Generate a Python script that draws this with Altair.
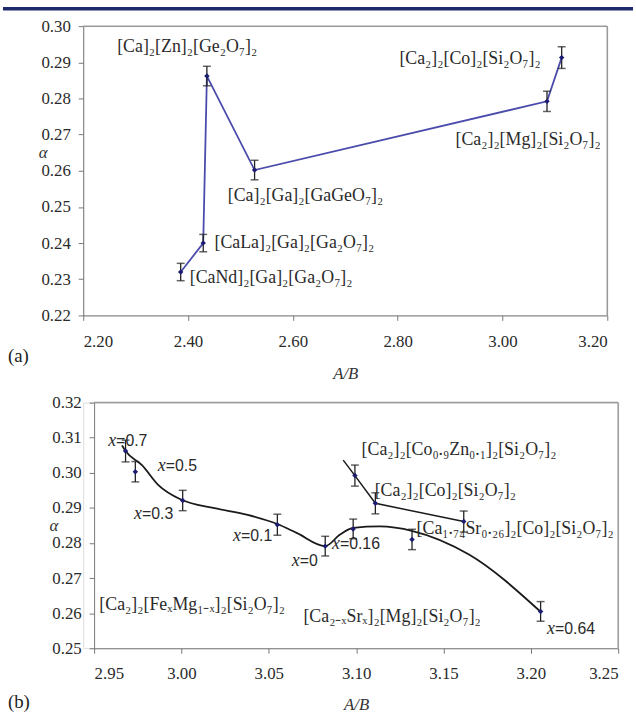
import altair as alt
import pandas as pd

SERIF = "Liberation Serif"
SANS = "Liberation Sans"

# ---------------- Panel (a) data ----------------
a_names = ["[CaNd]₂[Ga]₂[Ga₂O₇]₂", "[CaLa]₂[Ga]₂[Ga₂O₇]₂", "[Ca]₂[Zn]₂[Ge₂O₇]₂",
           "[Ca]₂[Ga]₂[GaGeO₇]₂", "[Ca₂]₂[Mg]₂[Si₂O₇]₂", "[Ca₂]₂[Co]₂[Si₂O₇]₂"]
a_ab = [2.386, 2.429, 2.436, 2.527, 3.085, 3.113]
a_alpha = [0.2320, 0.2400, 0.2862, 0.2602, 0.2792, 0.2913]
a_err = [0.0024, 0.0024, 0.0027, 0.0027, 0.0028, 0.0030]
# label anchors (left edge of text, data units)
a_label_ab = [2.4033, 2.4505, 2.2648, 2.4758, 2.9104, 2.8033]
a_label_alpha = [0.2302, 0.2400, 0.2941, 0.2531, 0.2684, 0.2909]
a_xticks = [2.2, 2.4, 2.6, 2.8, 3.0, 3.2]
a_yticks = [0.22, 0.23, 0.24, 0.25, 0.26, 0.27, 0.28, 0.29, 0.30]

# ---------------- Panel (b) data ----------------
b_ab = [2.968, 2.9736, 3.0007, 3.0549, 3.0823,      # Fe series x=0.7..0
        3.0983, 3.132, 3.2056,                      # Sr series
        3.0993, 3.111, 3.1616]                      # Co series
b_alpha = [0.3062, 0.3003, 0.2921, 0.2852, 0.2791,
           0.2840, 0.2810, 0.2605,
           0.2992, 0.2913, 0.2861]
b_err = [0.0031, 0.0029, 0.0029, 0.0030, 0.0028,
         0.0028, 0.0029, 0.0028,
         0.0030, 0.0030, 0.0030]
# smooth trend curve
curve_ab = [2.966, 2.968, 2.9774, 2.9868, 3.0001, 3.0189, 3.0379, 3.0549, 3.0662, 3.0823,
            3.0908, 3.0983, 3.1134, 3.1324, 3.1646, 3.2056]
curve_alpha = [0.3078, 0.3062, 0.3022, 0.2965, 0.2923, 0.2899, 0.2880, 0.2854, 0.2828, 0.2791,
               0.2824, 0.2843, 0.2847, 0.2834, 0.2767, 0.2604]
# straight Co line
coline_ab = [3.0926, 3.0993, 3.111, 3.1616]
coline_alpha = [0.3036, 0.2992, 0.2913, 0.2861]
# composition labels
xlab_text = ["=0.7", "=0.5", "=0.3", "=0.1", "=0", "=0.16", "=0.64"]
xlab_ab = [2.9626, 2.9910, 2.9774, 3.0341, 3.0677, 3.0907, 3.2138]
xlab_alpha = [0.3091, 0.3020, 0.2881, 0.2819, 0.2748, 0.2796, 0.2556]
# compound labels
b_names = ["[Ca₂]₂[Co₀.₉Zn₀.₁]₂[Si₂O₇]₂", "[Ca₂]₂[Co]₂[Si₂O₇]₂",
           "[Ca₁.₇₄Sr₀.₂₆]₂[Co]₂[Si₂O₇]₂", "[Ca₂]₂[FeₓMg₁₋ₓ]₂[Si₂O₇]₂",
           "[Ca₂₋ₓSrₓ]₂[Mg]₂[Si₂O₇]₂"]
b_label_ab = [3.1031, 3.1106, 3.1346, 2.9530, 3.0698]
b_label_alpha = [0.3064, 0.2948, 0.2840, 0.2622, 0.2589]
b_xticks = [2.95, 3.00, 3.05, 3.10, 3.15, 3.20, 3.25]
b_yticks = [0.25, 0.26, 0.27, 0.28, 0.29, 0.30, 0.31, 0.32]

TOP_W, TOP_H = 529, 292
BOT_W, BOT_H = 540, 248
BOT_OFF = 11

AX_STYLE = dict(grid=False, tickSize=5, labelFont=SERIF, labelFontSize=17, labelColor="#2a2a2a",
                domainColor="#777", tickColor="#777", titleFont=SERIF, titleFontSize=17,
                titleFontStyle="italic", titleFontWeight="normal", titleColor="#333", format=".2f")


def xenc(field, domain, ticks, rng=None, tpad=17):
    sc = dict(domain=domain, nice=False, zero=False)
    if rng is not None:
        sc["range"] = rng
    return alt.X(field, type="quantitative", scale=alt.Scale(**sc),
                 axis=alt.Axis(values=ticks, title="A/B", labelPadding=13, titlePadding=tpad,
                               **AX_STYLE))


def yenc(field, domain, ticks, ty, offset=0):
    return alt.Y(field, type="quantitative", scale=alt.Scale(domain=domain, nice=False, zero=False),
                 axis=alt.Axis(values=ticks, title="α", labelPadding=8, titleAngle=0,
                               titleX=-41, titleY=ty, titleAlign="center",
                               titleBaseline="middle", offset=offset, **AX_STYLE))


# ---------------- Panel (a) ----------------
dfa = pd.DataFrame({"ab": a_ab, "alpha": a_alpha, "seq": range(len(a_ab)),
                    "lo": [v - e for v, e in zip(a_alpha, a_err)],
                    "hi": [v + e for v, e in zip(a_alpha, a_err)]})
dfa_lab = pd.DataFrame({"lx": a_label_ab, "ly": a_label_alpha, "name": a_names})
frame_a = pd.DataFrame({"fx": [2.2, 3.2], "fx2": [3.2, 3.2], "fy": [0.30, 0.22], "fy2": [0.30, 0.30]})

AXD = [2.2, 3.2]
AYD = [0.22, 0.30]


def ax(f):
    return xenc(f, AXD, a_xticks)


def ay(f):
    return yenc(f, AYD, a_yticks, 128)


base_a = alt.Chart(dfa)
top_layers = [
    alt.Chart(frame_a).mark_rule(color="#9a9a9a", strokeWidth=1.5).encode(
        x=ax("fx"), x2="fx2", y=ay("fy"), y2="fy2"),
    base_a.mark_line(color="#4b4bab", strokeWidth=1.8).encode(
        x=ax("ab"), y=ay("alpha"), order="seq:Q"),
    base_a.mark_rule(color="#222", strokeWidth=1.3).encode(x=ax("ab"), y=ay("lo"), y2="hi"),
    base_a.mark_tick(color="#222", orient="horizontal", size=8, thickness=1.5).encode(
        x=ax("ab"), y=ay("lo")),
    base_a.mark_tick(color="#222", orient="horizontal", size=8, thickness=1.5).encode(
        x=ax("ab"), y=ay("hi")),
    base_a.mark_point(shape="diamond", filled=True, size=30, color="#1c1c72", opacity=1).encode(
        x=ax("ab"), y=ay("alpha")),
    alt.Chart(dfa_lab).mark_text(align="left", baseline="middle", font=SERIF, fontSize=18,
                                 color="#2a2a2a").encode(
        x=ax("lx"), y=ay("ly"), text="name:N"),
    alt.Chart(pd.DataFrame({"t": ["(a)"]})).mark_text(align="left", baseline="middle", font=SERIF,
                                                      fontSize=19, color="#222").encode(
        x=alt.value(-76), y=alt.value(333), text="t:N"),
    alt.Chart(pd.DataFrame({"k": [0]})).mark_rule(color="#1f2a6e", strokeWidth=3.5).encode(
        x=alt.value(-81), x2=alt.value(555), y=alt.value(-17.5)),
]
top = alt.layer(*top_layers).properties(width=TOP_W, height=TOP_H)

# ---------------- Panel (b) ----------------
dfb = pd.DataFrame({"ab": b_ab, "alpha": b_alpha,
                    "lo": [v - e for v, e in zip(b_alpha, b_err)],
                    "hi": [v + e for v, e in zip(b_alpha, b_err)]})
dfc = pd.DataFrame({"ab": curve_ab, "alpha": curve_alpha, "seq": range(len(curve_ab))})
dfco = pd.DataFrame({"ab": coline_ab, "alpha": coline_alpha, "seq": range(len(coline_ab))})
dfx = pd.DataFrame({"lx": xlab_ab, "ly": xlab_alpha, "t": xlab_text, "v": ["x"] * len(xlab_text)})
dfbl = pd.DataFrame({"lx": b_label_ab, "ly": b_label_alpha, "name": b_names})
frame_b = pd.DataFrame({"fx": [2.95, 3.25], "fx2": [3.25, 3.25], "fy": [0.32, 0.25], "fy2": [0.32, 0.32]})

BXD = [2.95, 3.25]
BYD = [0.25, 0.32]
BR = [BOT_OFF, BOT_W]


def bx(f):
    return xenc(f, BXD, b_xticks, BR, tpad=15)


def by(f):
    return yenc(f, BYD, b_yticks, 124, offset=-BOT_OFF)


bot_layers = [
    alt.Chart(frame_b).mark_rule(color="#9a9a9a", strokeWidth=1.5).encode(
        x=bx("fx"), x2="fx2", y=by("fy"), y2="fy2"),
    alt.Chart(dfc).mark_line(color="#1a1a1a", strokeWidth=1.8, interpolate="monotone").encode(
        x=bx("ab"), y=by("alpha"), order="seq:Q"),
    alt.Chart(dfco).mark_line(color="#1a1a1a", strokeWidth=1.5).encode(
        x=bx("ab"), y=by("alpha"), order="seq:Q"),
    alt.Chart(dfb).mark_rule(color="#222", strokeWidth=1.3).encode(x=bx("ab"), y=by("lo"), y2="hi"),
    alt.Chart(dfb).mark_tick(color="#222", orient="horizontal", size=8, thickness=1.5).encode(
        x=bx("ab"), y=by("lo")),
    alt.Chart(dfb).mark_tick(color="#222", orient="horizontal", size=8, thickness=1.5).encode(
        x=bx("ab"), y=by("hi")),
    alt.Chart(dfb).mark_point(shape="diamond", filled=True, size=30, color="#1c1c72", opacity=1).encode(
        x=bx("ab"), y=by("alpha")),
    alt.Chart(dfx).mark_text(align="right", baseline="middle", font=SERIF, fontSize=18,
                             fontStyle="italic", color="#2a2a2a").encode(
        x=bx("lx"), y=by("ly"), text="v:N"),
    alt.Chart(dfx).mark_text(align="left", baseline="middle", font=SANS, fontSize=16,
                             color="#2a2a2a").encode(
        x=bx("lx"), y=by("ly"), text="t:N"),
    alt.Chart(dfbl).mark_text(align="left", baseline="middle", font=SERIF, fontSize=18,
                              color="#2a2a2a").encode(
        x=bx("lx"), y=by("ly"), text="name:N"),
    alt.Chart(pd.DataFrame({"t": ["(b)"]})).mark_text(align="left", baseline="middle", font=SERIF,
                                                      fontSize=19, color="#222").encode(
        x=alt.value(-76), y=alt.value(302), text="t:N"),
]
bottom = alt.layer(*bot_layers).properties(width=BOT_W, height=BOT_H)

chart = alt.vconcat(top, bottom, spacing=10).properties(
    padding={"left": 0, "top": 3, "right": 0, "bottom": 0}
).configure_view(stroke=None).configure_axis(
    labelFont=SERIF, titleFont=SERIF
).configure(background="white")

chart.save("out.html", embed_options={"renderer": "svg", "actions": False})
